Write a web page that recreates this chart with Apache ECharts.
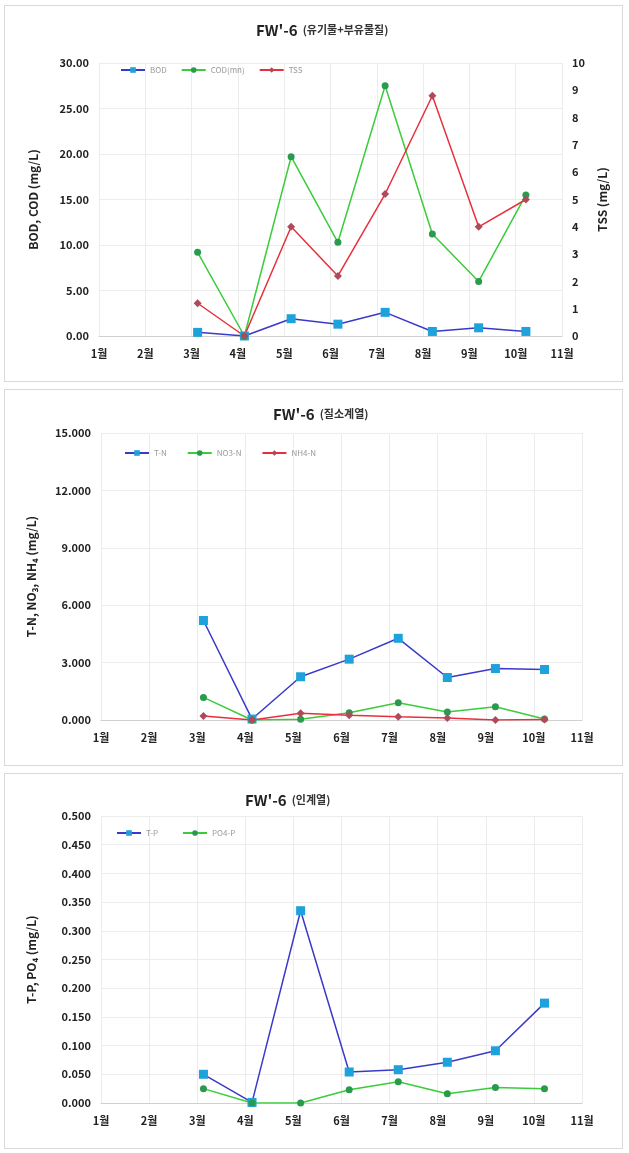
<!DOCTYPE html>
<html><head><meta charset="utf-8">
<script src="https://cdn.jsdelivr.net/npm/echarts@6/dist/echarts.min.js"></script>
<style>
html,body{margin:0;padding:0;background:#fff;width:629px;height:1153px;overflow:hidden;}
.panel{position:absolute;left:4px;width:619px;border:1px solid #d9d9d9;background:#fff;box-sizing:border-box;}
</style></head>
<body>
<div id="c1" class="panel" style="top:5px;height:377px;"></div>
<div id="c2" class="panel" style="top:389px;height:377px;"></div>
<div id="c3" class="panel" style="top:773px;height:376px;"></div>
<script>
// sampling positions (month + fraction of month)
const sampleMonth = [3.13, 4.14, 5.15, 6.16, 7.18, 8.2, 9.2, 10.22];
// chart 1
const bod = [0.4, 0.0, 1.9, 1.3, 2.6, 0.5, 0.9, 0.5];
const cod = [9.2, 0.0, 19.7, 10.3, 27.5, 11.2, 6.0, 15.5];
const tss = [1.2, 0.0, 4.0, 2.2, 5.2, 8.8, 4.0, 5.0];
// chart 2
const tn  = [5.2, 0.05, 2.26, 3.18, 4.27, 2.22, 2.69, 2.64];
const no3 = [1.18, 0.0, 0.04, 0.38, 0.9, 0.42, 0.69, 0.05];
const nh4 = [0.21, 0.0, 0.35, 0.25, 0.17, 0.1, 0.0, 0.03];
// chart 3
const tp  = [0.050, 0.001, 0.335, 0.054, 0.058, 0.071, 0.091, 0.174];
const po4 = [0.025, 0.0, 0.0, 0.023, 0.037, 0.016, 0.027, 0.025];

const FONT = "'Noto Sans CJK KR', 'Noto Sans', sans-serif";
const pairs = arr => arr.map((v,i)=>[sampleMonth[i], v]);

function title(sub, left, top){
  return {
    text: "{a|FW'-6} {b|(" + sub + ")}",
    left: left, top: top,
    textStyle: { rich: {
      a: {fontFamily: FONT, fontSize: 15, fontWeight: 'bold', color: '#222'},
      b: {fontFamily: FONT, fontSize: 11, fontWeight: 'bold', color: '#333'}
    }}
  };
}
function xAxis(){
  return {
    type: 'value', min: 1, max: 11, interval: 1,
    axisLine: {show: true, lineStyle: {color: '#d0d0d0'}},
    axisTick: {show: false},
    splitLine: {show: true, lineStyle: {color: '#ececec'}},
    axisLabel: {formatter: v => v + '월', fontFamily: FONT, fontSize: 11, fontWeight: 'bold', color: '#222', margin: 12}
  };
}
function yAxis(min, max, interval, digits, name, gap){
  return {
    type: 'value', min: min, max: max, interval: interval,
    name: name, nameLocation: 'middle', nameGap: gap, nameRotate: 90,
    nameTextStyle: {fontFamily: FONT, fontSize: 12, fontWeight: 'bold', color: '#222'},
    axisLine: {show: false}, axisTick: {show: false},
    splitLine: {show: true, lineStyle: {color: '#ececec'}},
    axisLabel: {formatter: v => v.toFixed(digits), fontFamily: FONT, fontSize: 11, fontWeight: 'bold', color: '#222', margin: 10}
  };
}
function legend(names, top, left, gap){
  return {
    data: names, top: top, left: left, itemWidth: 24, itemHeight: 7, itemGap: gap,
    textStyle: {fontFamily: FONT, fontSize: 8, color: '#999'}
  };
}
const S = {
  blue:  {line: '#3a3ac8', mark: '#1ea2dc', sym: 'rect', size: 9},
  green: {line: '#3acc3a', mark: '#2a9a4c', sym: 'circle', size: 7},
  red:   {line: '#e8303c', mark: '#b04a5a', sym: 'diamond', size: 8}
};
function series(name, data, st, yIndex){
  return {
    name: name, type: 'line', data: pairs(data), yAxisIndex: yIndex || 0,
    symbol: st.sym, symbolSize: st.size, showSymbol: true,
    lineStyle: {color: st.line, width: 1.5},
    itemStyle: {color: st.mark},
    emphasis: {disabled: true}, animation: false
  };
}

const ch1 = echarts.init(document.getElementById('c1'), null, {renderer: 'canvas'});
ch1.setOption({
  animation: false,
  title: title('유기물+부유물질', 246, 10),
  legend: legend(['BOD', 'COD(mn)', 'TSS'], 55, 110, 14),
  grid: {left: 94, right: 60, top: 57, bottom: 45},
  xAxis: xAxis(),
  yAxis: [
    yAxis(0, 30, 5, 2, 'BOD, COD (mg/L)', 60),
    Object.assign(yAxis(0, 10, 1, 0, 'TSS (mg/L)', 34), {position: 'right', splitLine: {show: false}})
  ],
  series: [
    series('BOD', bod, S.blue),
    series('COD(mn)', cod, S.green),
    series('TSS', tss, S.red, 1)
  ]
});

const ch2 = echarts.init(document.getElementById('c2'));
ch2.setOption({
  animation: false,
  title: title('질소계열', 263, 10),
  legend: legend(['T-N', 'NO3-N', 'NH4-N'], 54, 114, 20),
  grid: {left: 96, right: 40, top: 43, bottom: 45},
  xAxis: xAxis(),
  yAxis: yAxis(0, 15, 3, 3, 'T-N, NO₃, NH₄ (mg/L)', 64),
  series: [
    series('T-N', tn, S.blue),
    series('NO3-N', no3, S.green),
    series('NH4-N', nh4, S.red)
  ]
});

const ch3 = echarts.init(document.getElementById('c3'));
ch3.setOption({
  animation: false,
  title: title('인계열', 235, 12),
  legend: legend(['T-P', 'PO4-P'], 50, 106, 24),
  grid: {left: 96, right: 40, top: 42, bottom: 45},
  xAxis: xAxis(),
  yAxis: yAxis(0, 0.5, 0.05, 3, 'T-P, PO₄ (mg/L)', 64),
  series: [
    series('T-P', tp, S.blue),
    series('PO4-P', po4, S.green)
  ]
});
</script>
</body></html>
